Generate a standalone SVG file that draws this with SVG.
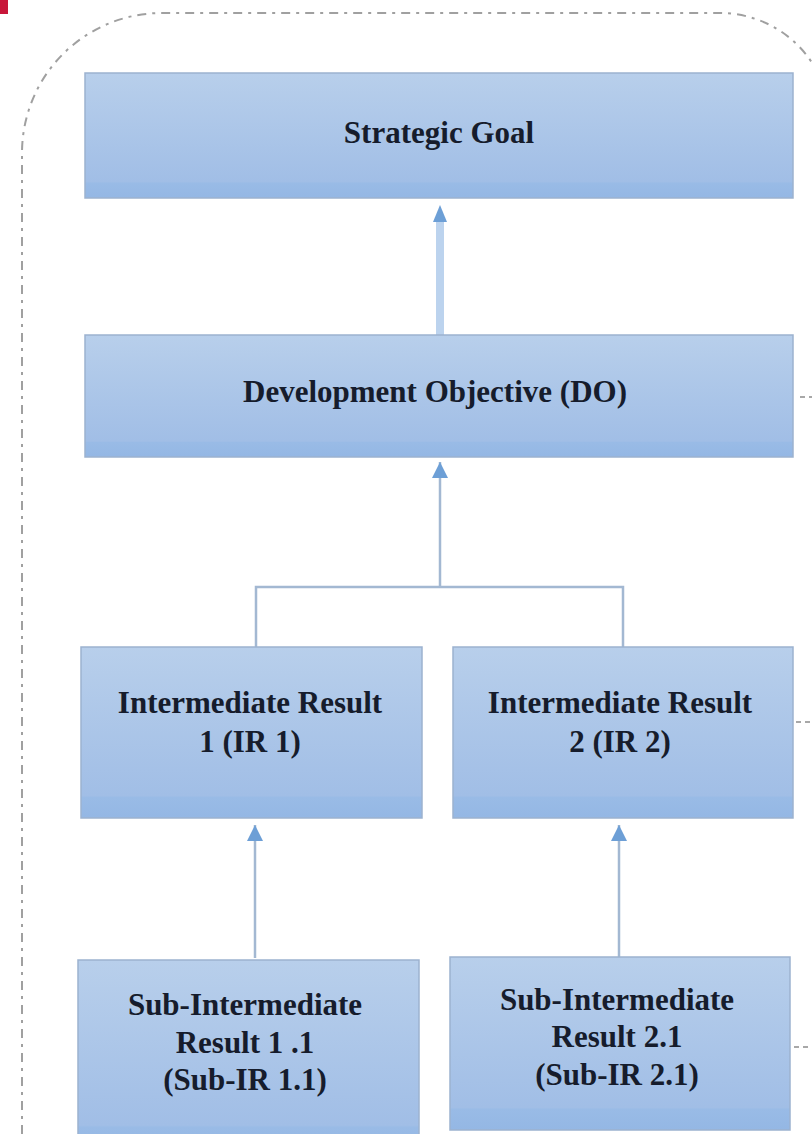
<svg xmlns="http://www.w3.org/2000/svg" width="812" height="1134" viewBox="0 0 812 1134">
<style>
.box{fill:url(#bg);stroke:#9cb2cf;stroke-width:1.5}
.t{font-family:"Liberation Serif","Times New Roman",serif;font-weight:bold;font-size:31px;fill:#161c2c;text-anchor:middle}
.thick{stroke:#bcd3ee;stroke-width:8;fill:none}
.thin{stroke:#a3b8d2;stroke-width:2.5;fill:none}
.stub{stroke:#a8a8a8;stroke-width:2;stroke-dasharray:5 4;fill:none}
</style>
<defs>
<linearGradient id="bg" x1="0" y1="0" x2="0" y2="1">
<stop offset="0" stop-color="#b8cfeb"/>
<stop offset="0.87" stop-color="#a1bee6"/>
<stop offset="0.88" stop-color="#99bbe6"/>
<stop offset="1" stop-color="#94b7e4"/>
</linearGradient>
<marker id="ah" markerUnits="userSpaceOnUse" markerWidth="16" markerHeight="16" viewBox="0 0 16 16" refX="16" refY="8" orient="auto">
<path d="M0,0 L16,8 L0,16 Z" fill="#6d9fd6"/>
</marker>
</defs>
<rect x="0" y="0" width="8" height="14" fill="#c8173a"/>
<path d="M22,1134 L22,153 A140,140 0 0 1 162,13 L720,13 A110,110 0 0 1 830,123" fill="none" stroke="#a0a0a0" stroke-width="2" stroke-dasharray="9 6 3 6"/>
<g id="connectors">
<path class="thick" d="M440,335 L440,220"/>
<path d="M440,205 L447,222 L433,222 Z" fill="#6d9fd6"/>
<path class="thin" d="M440,587 L440,462" marker-end="url(#ah)"/>
<path class="thin" d="M256,647 L256,587 L623,587 L623,647" stroke-width="3"/>
<path class="thin" d="M255,958 L255,825" marker-end="url(#ah)"/>
<path class="thin" d="M619,958 L619,825" marker-end="url(#ah)"/>
<path class="stub" d="M800,397 L812,397"/>
<path class="stub" d="M796,722 L812,722"/>
<path class="stub" d="M794,1047 L812,1047"/>
</g>
<g id="strategic-goal">
<rect class="box" x="85" y="73" width="708" height="125"/>
<text class="t" x="439" y="143">Strategic Goal</text>
</g>
<g id="development-objective">
<rect class="box" x="85" y="335" width="708" height="122"/>
<text class="t" x="435" y="402">Development Objective (DO)</text>
</g>
<g id="ir1">
<rect class="box" x="81" y="647" width="341" height="171"/>
<text class="t" x="250" y="713">Intermediate Result</text>
<text class="t" x="250" y="752">1 (IR 1)</text>
</g>
<g id="ir2">
<rect class="box" x="453" y="647" width="340" height="171"/>
<text class="t" x="620" y="713">Intermediate Result</text>
<text class="t" x="620" y="752">2 (IR 2)</text>
</g>
<g id="sub-ir-1-1">
<rect class="box" x="78" y="960" width="341" height="190"/>
<text class="t" x="245" y="1015">Sub-Intermediate</text>
<text class="t" x="245" y="1053">Result 1 .1</text>
<text class="t" x="245" y="1090">(Sub-IR 1.1)</text>
</g>
<g id="sub-ir-2-1">
<rect class="box" x="450" y="957" width="340" height="173"/>
<text class="t" x="617" y="1010">Sub-Intermediate</text>
<text class="t" x="617" y="1047">Result 2.1</text>
<text class="t" x="617" y="1085">(Sub-IR 2.1)</text>
</g>
</svg>
